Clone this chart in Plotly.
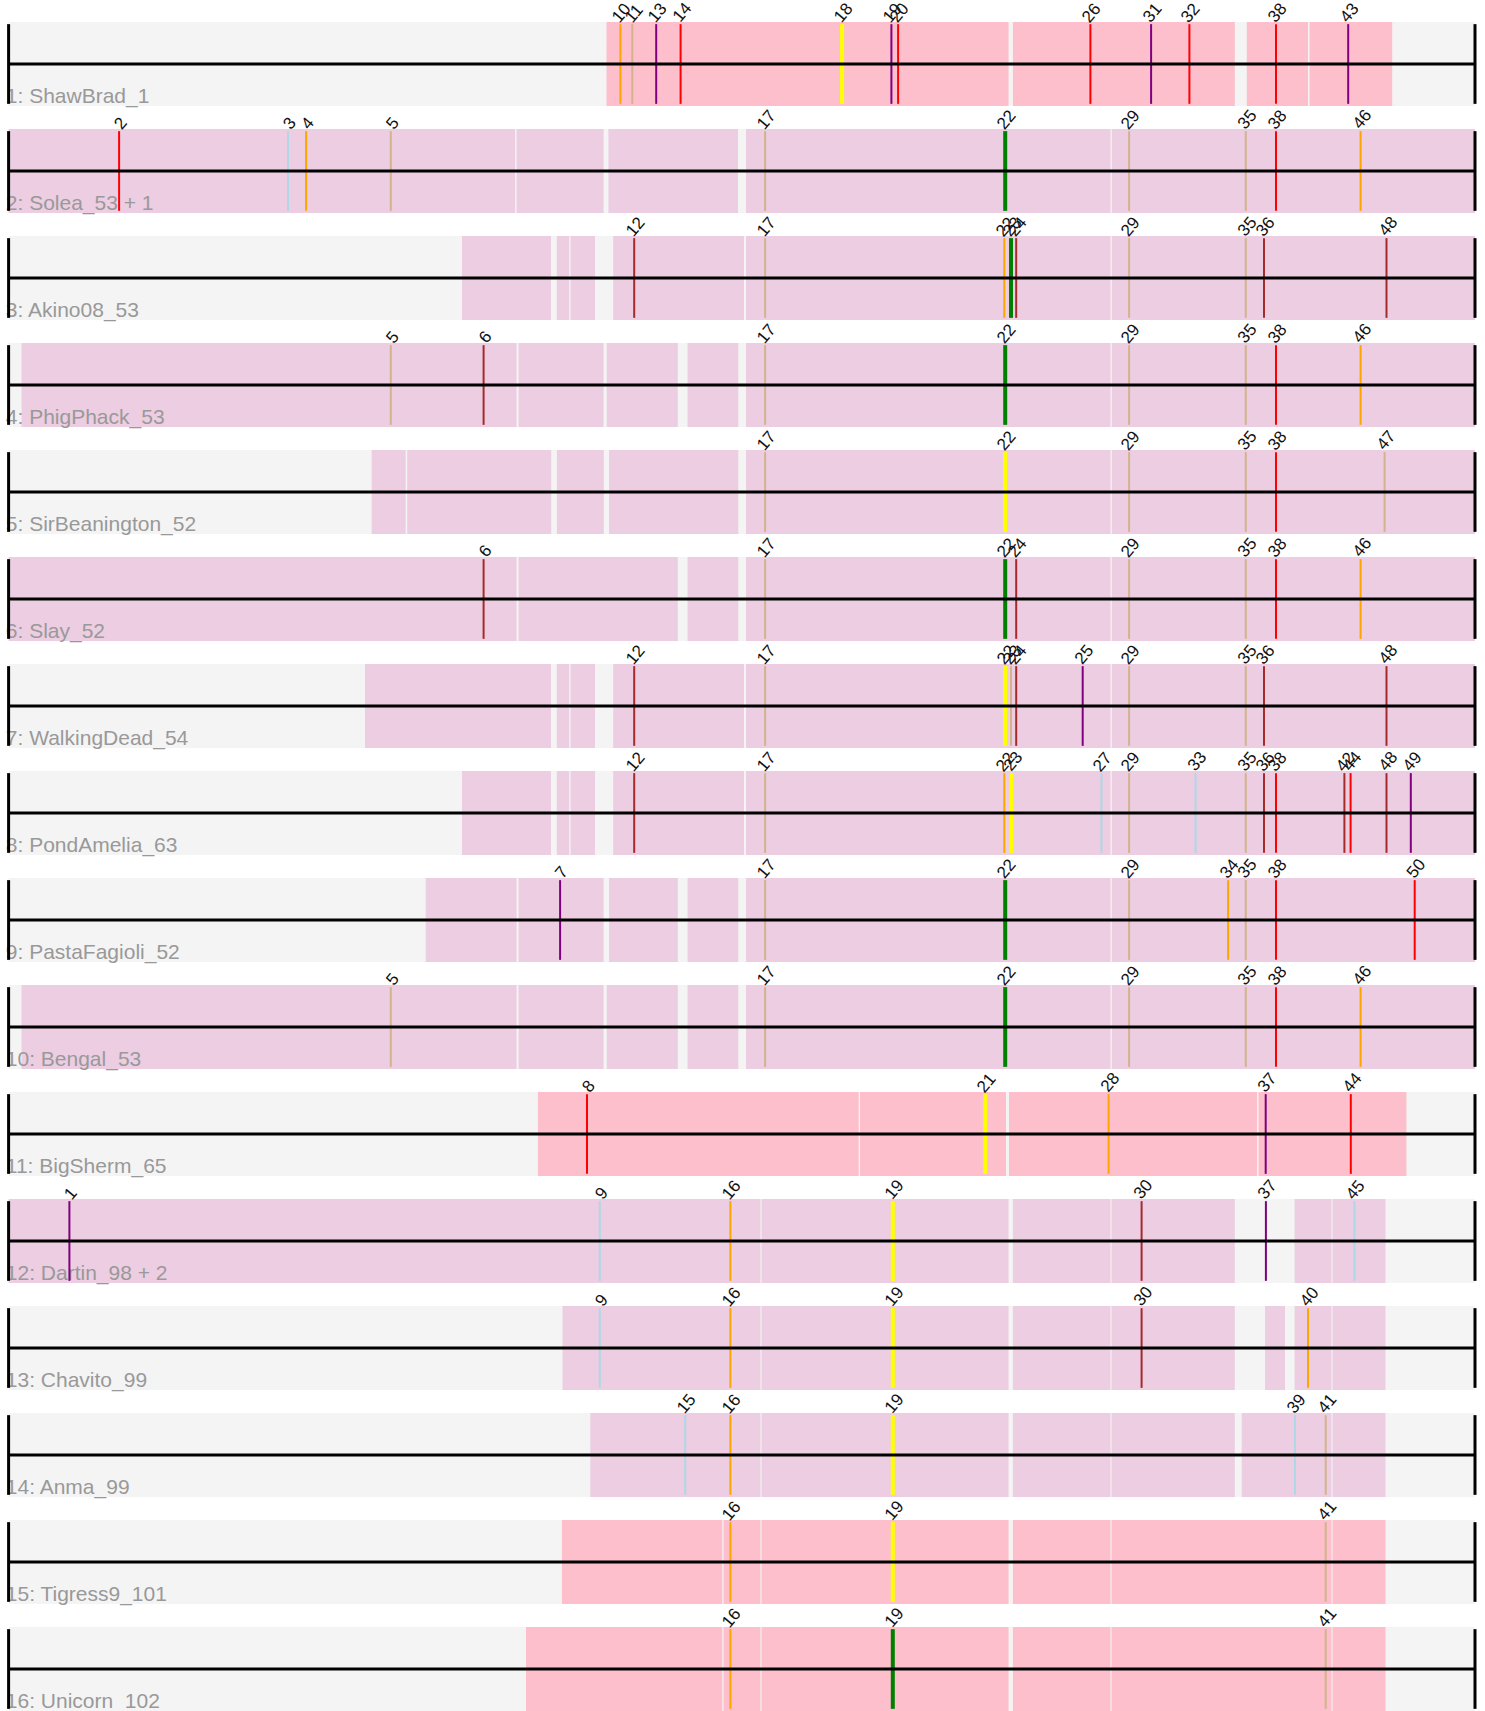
import plotly.graph_objects as go

# ---------------- data ----------------
row_names = [
    "1: ShawBrad_1", "2: Solea_53 + 1", "3: Akino08_53", "4: PhigPhack_53",
    "5: SirBeanington_52", "6: Slay_52", "7: WalkingDead_54", "8: PondAmelia_63",
    "9: PastaFagioli_52", "10: Bengal_53", "11: BigSherm_65", "12: Dartin_98 + 2",
    "13: Chavito_99", "14: Anma_99", "15: Tigress9_101", "16: Unicorn_102",
]
row_kind = ["pink", "mauve", "mauve", "mauve", "mauve", "mauve", "mauve", "mauve",
            "mauve", "mauve", "pink", "mauve", "mauve", "mauve", "pink", "pink"]

track_start = 8.6
track_end = 1475.0

segments_01 = [(606.5, 1008.6), (1012.9, 1234.8), (1246.8, 1308.0), (1309.5, 1392.2)]
segments_02 = [(8.6, 515.1), (516.6, 603.6), (608.4, 738.0), (746.0, 1110.5), (1111.8, 1475.0)]
segments_03 = [(462.0, 551.0), (556.8, 569.2), (570.6, 595.0), (613.2, 744.0), (746.0, 1110.5), (1111.8, 1475.0)]
segments_04 = [(21.5, 516.6), (518.6, 603.6), (606.7, 677.8), (687.6, 738.3), (746.0, 1110.5), (1111.8, 1475.0)]
segments_05 = [(371.7, 405.7), (407.2, 551.2), (556.9, 603.8), (609.1, 738.3), (746.0, 1110.5), (1111.8, 1475.0)]
segments_06 = [(8.6, 516.6), (518.6, 677.8), (687.6, 738.3), (746.0, 1110.5), (1111.8, 1475.0)]
segments_07 = [(365.0, 551.0), (556.8, 569.2), (570.6, 595.0), (613.2, 744.0), (746.0, 1110.5), (1111.8, 1475.0)]
segments_08 = [(462.0, 551.0), (556.8, 569.2), (570.6, 595.0), (613.2, 744.0), (746.0, 1110.5), (1111.8, 1475.0)]
segments_09 = [(425.7, 516.6), (518.6, 603.6), (609.1, 677.8), (687.6, 738.3), (746.0, 1110.5), (1111.8, 1475.0)]
segments_10 = [(21.5, 516.6), (518.6, 603.6), (606.7, 677.8), (687.6, 738.3), (746.0, 1110.5), (1111.8, 1475.0)]
segments_11 = [(537.9, 858.7), (860.0, 1006.0), (1009.0, 1257.0), (1258.5, 1406.4)]
segments_12 = [(8.6, 760.4), (761.5, 1008.6), (1012.9, 1110.5), (1111.5, 1234.8), (1294.6, 1331.5), (1332.5, 1385.5)]
segments_13 = [(562.5, 760.4), (761.5, 1008.6), (1012.9, 1110.5), (1111.5, 1234.8), (1265.0, 1285.0), (1294.6, 1331.5), (1332.5, 1385.5)]
segments_14 = [(590.3, 760.4), (761.5, 1008.6), (1012.9, 1110.5), (1111.5, 1234.8), (1241.7, 1331.5), (1332.5, 1385.5)]
segments_15 = [(561.9, 722.3), (723.5, 760.4), (761.5, 1008.6), (1012.9, 1110.5), (1111.5, 1331.5), (1332.5, 1385.5)]
segments_16 = [(526.0, 722.3), (723.5, 760.4), (761.5, 1008.6), (1012.9, 1110.5), (1111.5, 1331.5), (1332.5, 1385.5)]

genes_01 = [("10", 620.4, "orange"), ("11", 632.3, "tan"), ("13", 656.2, "purple"), ("14", 680.6, "red"),
            ("18", 842.1, "yellow"), ("19", 891.4, "purple"), ("20", 898.1, "red"), ("26", 1090.4, "red"),
            ("31", 1151.1, "purple"), ("32", 1189.4, "red"), ("38", 1276.0, "red"), ("43", 1348.2, "purple")]
genes_02 = [("2", 119.1, "red"), ("3", 288.0, "lightblue"), ("4", 306.1, "orange"), ("5", 390.8, "tan"),
            ("17", 765.1, "tan"), ("22", 1005.2, "green"), ("29", 1129.1, "tan"), ("35", 1245.8, "tan"),
            ("38", 1276.0, "red"), ("46", 1360.6, "orange")]
genes_03 = [("12", 634.2, "brown"), ("17", 765.1, "tan"), ("22", 1004.3, "orange"), ("23", 1011.0, "green"),
            ("24", 1016.2, "brown"), ("29", 1129.1, "tan"), ("35", 1245.8, "tan"), ("36", 1264.0, "brown"),
            ("48", 1386.5, "brown")]
genes_04 = [("5", 390.8, "tan"), ("6", 483.6, "brown"), ("17", 765.1, "tan"), ("22", 1005.2, "green"),
            ("29", 1129.1, "tan"), ("35", 1245.8, "tan"), ("38", 1276.0, "red"), ("46", 1360.6, "orange")]
genes_05 = [("17", 765.1, "tan"), ("22", 1005.2, "yellow"), ("29", 1129.1, "tan"), ("35", 1245.8, "tan"),
            ("38", 1276.0, "red"), ("47", 1384.6, "tan")]
genes_06 = [("6", 483.6, "brown"), ("17", 765.1, "tan"), ("22", 1005.2, "green"), ("24", 1016.2, "brown"),
            ("29", 1129.1, "tan"), ("35", 1245.8, "tan"), ("38", 1276.0, "red"), ("46", 1360.6, "orange")]
genes_07 = [("12", 634.2, "brown"), ("17", 765.1, "tan"), ("22", 1005.2, "yellow"), ("23", 1011.0, "tan"),
            ("24", 1016.2, "brown"), ("25", 1082.7, "purple"), ("29", 1129.1, "tan"), ("35", 1245.8, "tan"),
            ("36", 1264.0, "brown"), ("48", 1386.5, "brown")]
genes_08 = [("12", 634.2, "brown"), ("17", 765.1, "tan"), ("22", 1004.3, "orange"), ("23", 1011.5, "yellow"),
            ("27", 1101.4, "lightblue"), ("29", 1129.1, "tan"), ("33", 1195.6, "lightblue"), ("35", 1245.8, "tan"),
            ("36", 1264.0, "brown"), ("38", 1276.0, "red"), ("42", 1344.4, "brown"), ("44", 1350.6, "red"),
            ("48", 1386.5, "brown"), ("49", 1410.8, "purple")]
genes_09 = [("7", 560.1, "purple"), ("17", 765.1, "tan"), ("22", 1005.2, "green"), ("29", 1129.1, "tan"),
            ("34", 1228.1, "orange"), ("35", 1245.8, "tan"), ("38", 1276.0, "red"), ("50", 1414.7, "red")]
genes_10 = [("5", 390.8, "tan"), ("17", 765.1, "tan"), ("22", 1005.2, "green"), ("29", 1129.1, "tan"),
            ("35", 1245.8, "tan"), ("38", 1276.0, "red"), ("46", 1360.6, "orange")]
genes_11 = [("8", 587.0, "red"), ("21", 985.3, "yellow"), ("28", 1108.6, "orange"), ("37", 1265.7, "purple"),
            ("44", 1350.8, "red")]
genes_12 = [("1", 69.4, "purple"), ("9", 599.8, "lightblue"), ("16", 730.4, "orange"), ("19", 892.8, "yellow"),
            ("30", 1141.6, "brown"), ("37", 1265.9, "purple"), ("45", 1354.4, "lightblue")]
genes_13 = [("9", 599.8, "lightblue"), ("16", 730.4, "orange"), ("19", 892.8, "yellow"), ("30", 1141.6, "brown"),
            ("40", 1308.0, "orange")]
genes_14 = [("15", 685.2, "lightblue"), ("16", 730.4, "orange"), ("19", 892.8, "yellow"), ("39", 1295.0, "lightblue"),
            ("41", 1325.7, "tan")]
genes_15 = [("16", 730.4, "orange"), ("19", 892.8, "yellow"), ("41", 1325.7, "tan")]
genes_16 = [("16", 730.4, "orange"), ("19", 892.8, "green"), ("41", 1325.7, "tan")]

all_segments = [segments_01, segments_02, segments_03, segments_04, segments_05, segments_06,
                segments_07, segments_08, segments_09, segments_10, segments_11, segments_12,
                segments_13, segments_14, segments_15, segments_16]
all_genes = [genes_01, genes_02, genes_03, genes_04, genes_05, genes_06, genes_07, genes_08,
             genes_09, genes_10, genes_11, genes_12, genes_13, genes_14, genes_15, genes_16]

# ---------------- style ----------------
W, H = 1485, 1711
ROW_PITCH = 107.0
ROW_CENTER0 = 64.0                   # pixel of first track line
HALF = 42.0 / ROW_PITCH

palette = {"orange": "#FFA500", "tan": "#D2B48C", "purple": "#800080", "red": "#FF0000",
           "yellow": "#FFFF00", "green": "#008000", "brown": "#A52A2A", "lightblue": "#ADD8E6"}
thick = {"yellow", "green"}
fills = {"pink": "#FCBFCB", "mauve": "#ECCDE1"}
band_color = "#F4F4F4"
font_family = "Arial, Liberation Sans, sans-serif"

fig = go.Figure()
shapes = []
annotations = []

for i, name in enumerate(row_names):
    top, bot = i - HALF, i + HALF
    shapes.append(dict(type="rect", xref="x", yref="y", x0=track_start, x1=track_end, y0=top, y1=bot,
                       fillcolor=band_color, line=dict(width=0), layer="below"))
    for (a, b) in all_segments[i]:
        shapes.append(dict(type="rect", xref="x", yref="y", x0=a, x1=b, y0=top, y1=bot,
                           fillcolor=fills[row_kind[i]], line=dict(width=0), layer="below"))

# row names as text traces (drawn below the line shapes)
fig.add_trace(go.Scatter(
    x=[track_start - 2.8] * len(row_names),
    y=[i + HALF - 8.5 / ROW_PITCH for i in range(len(row_names))],
    mode="text", text=row_names, textposition="middle right", cliponaxis=False,
    textfont=dict(family=font_family, size=21, color="#999999"),
    hoverinfo="skip", showlegend=False,
))

for i, genes in enumerate(all_genes):
    top, bot = i - HALF, i + HALF
    for (lab, pos, col) in genes:
        shapes.append(dict(type="line", xref="x", yref="y", x0=pos, x1=pos, y0=top + 0.02, y1=bot - 0.02,
                           line=dict(color=palette[col], width=4 if col in thick else 2), layer="above"))
        annotations.append(dict(x=pos, y=top, xref="x", yref="y", text=lab, showarrow=False,
                                textangle=-50, xanchor="center", yanchor="bottom", yshift=-7, xshift=1.5,
                                font=dict(family=font_family, size=17, color="#111111")))
    shapes.append(dict(type="line", xref="x", yref="y", x0=track_start, x1=track_end, y0=i, y1=i,
                       line=dict(color="black", width=3), layer="above"))
    for xe in (track_start, track_end):
        shapes.append(dict(type="line", xref="x", yref="y", x0=xe, x1=xe, y0=top + 0.02, y1=bot - 0.02,
                           line=dict(color="black", width=3), layer="above"))

y_top = -ROW_CENTER0 / ROW_PITCH
y_bot = (H - ROW_CENTER0) / ROW_PITCH

fig.update_layout(
    width=W, height=H, margin=dict(l=0, r=0, t=0, b=0),
    paper_bgcolor="white", plot_bgcolor="white",
    xaxis=dict(range=[0, W], visible=False, fixedrange=True),
    yaxis=dict(range=[y_bot, y_top], visible=False, fixedrange=True),
    shapes=shapes, annotations=annotations, showlegend=False,
)

fig.write_html(
    "out.html",
    config={"displayModeBar": False},
    post_script="document.body.style.margin='0';document.body.style.overflow='hidden';",
)
